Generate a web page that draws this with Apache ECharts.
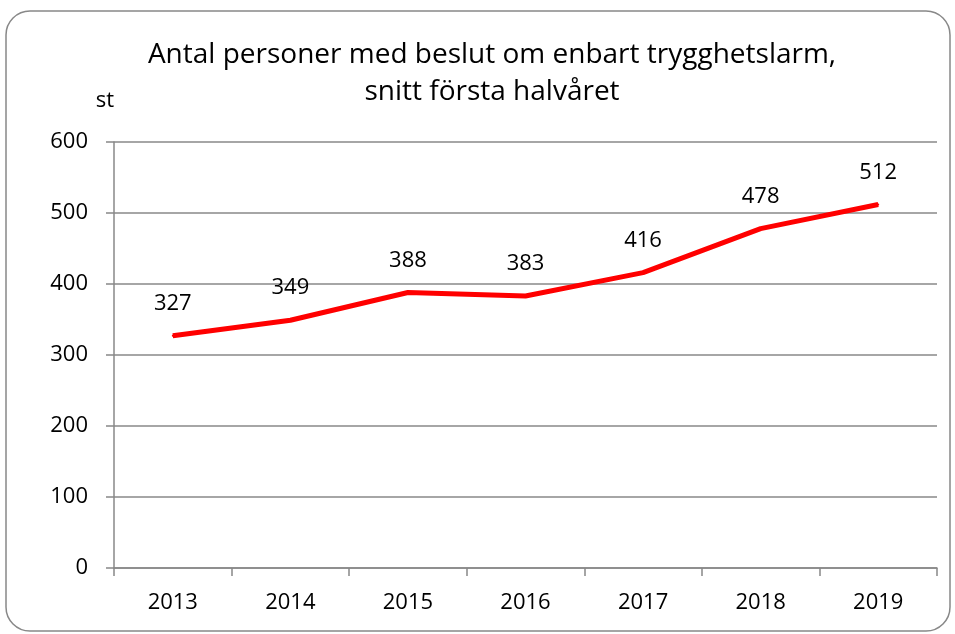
<!DOCTYPE html>
<html>
<head>
<meta charset="utf-8">
<script src="https://cdn.jsdelivr.net/npm/echarts@6/dist/echarts.min.js"></script>
<style>
  html, body { margin: 0; padding: 0; background: #fff; }
  #chart { width: 955px; height: 634px; }
</style>
</head>
<body>
<div id="chart"></div>
<script>
  // data
  const years = ['2013', '2014', '2015', '2016', '2017', '2018', '2019'];
  const persons = [327, 349, 388, 383, 416, 478, 512];
  const titleLines = ['Antal personer med beslut om enbart trygghetslarm,', 'snitt första halvåret'];
  const unitName = 'st';

  const font = '"Open Sans", "Noto Sans", sans-serif';
  const chart = echarts.init(document.getElementById('chart'));

  chart.setOption({
    animation: false,
    graphic: [{
      type: 'rect',
      shape: { x: 6, y: 11, width: 944, height: 620, r: 24 },
      style: { fill: 'none', stroke: '#888', lineWidth: 1.5 },
      silent: true
    }],
    title: {
      text: titleLines.join('\n'),
      left: 487,
      top: 32,
      textAlign: 'center',
      textStyle: {
        fontFamily: font,
        fontSize: 28,
        fontWeight: 'normal',
        color: '#000',
        lineHeight: 37
      }
    },
    grid: {
      left: 114,
      right: 18,
      top: 142,
      bottom: 66
    },
    xAxis: {
      type: 'category',
      data: years,
      boundaryGap: true,
      axisLine: { lineStyle: { color: '#888', width: 1.5 } },
      axisTick: { show: true, length: 8, lineStyle: { color: '#888', width: 1.5 } },
      axisLabel: { fontFamily: font, fontSize: 22, color: '#000', margin: 24 }
    },
    yAxis: {
      type: 'value',
      min: 0,
      max: 600,
      interval: 100,
      name: unitName,
      nameLocation: 'end',
      nameGap: 30,
      nameTextStyle: { fontFamily: font, fontSize: 22, color: '#000', align: 'right' },
      axisLine: { show: true, lineStyle: { color: '#888', width: 1.5 } },
      axisTick: { show: true, length: 8, lineStyle: { color: '#888', width: 1.5 } },
      axisLabel: { fontFamily: font, fontSize: 22, color: '#000', margin: 26 },
      splitLine: { lineStyle: { color: '#888', width: 1.5 } }
    },
    series: [{
      type: 'line',
      data: persons,
      symbol: 'circle',
      symbolSize: 2,
      showSymbol: true,
      lineStyle: { color: '#ff0000', width: 5 },
      itemStyle: { color: '#ff0000' },
      label: {
        show: true,
        position: 'top',
        distance: 20,
        fontFamily: font,
        fontSize: 22,
        color: '#000'
      }
    }]
  });
</script>
</body>
</html>
